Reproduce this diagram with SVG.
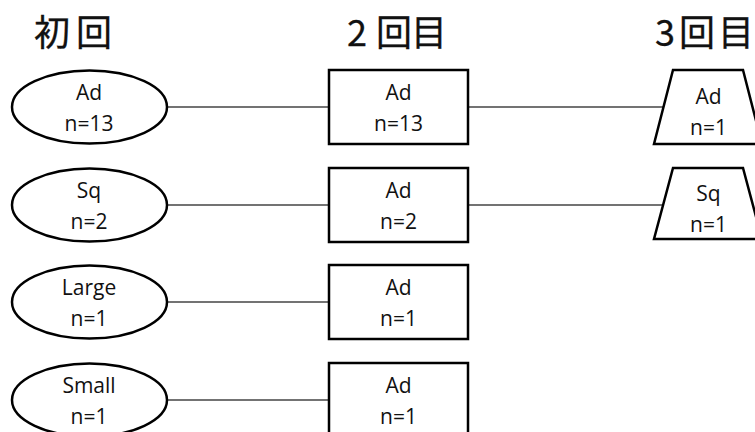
<svg xmlns="http://www.w3.org/2000/svg" width="755" height="432" viewBox="0 0 755 432">
  <style>
    .hd { font-family: "Noto Sans CJK JP", "Noto Sans", sans-serif; font-size: 36px; font-weight: 400; fill: #111; stroke: #111; stroke-width: 0.3; }
    .shape { fill: #fff; stroke: #000; stroke-width: 2.5; }
    .lbl { font-family: "Open Sans", "Liberation Sans", sans-serif; font-size: 21px; fill: #111; text-anchor: middle; }
    .conn line { stroke: #444; stroke-width: 1.3; }
  </style>
  <rect width="755" height="432" fill="#fff"/>

  <!-- column headings -->
  <text class="hd" x="34 76" y="46">初回</text>
  <text class="hd" x="347 376 411" y="46">2回目</text>
  <text class="hd" x="655 679 718" y="46">3回目</text>

  <!-- connectors -->
  <g id="connectors" class="conn">
    <line x1="167" y1="107" x2="329" y2="107"/>
    <line x1="468" y1="107" x2="663" y2="107"/>
    <line x1="167" y1="205" x2="329" y2="205"/>
    <line x1="468" y1="205" x2="663" y2="205"/>
    <line x1="167" y1="302" x2="329" y2="302"/>
    <line x1="167" y1="400" x2="329" y2="400"/>
  </g>

  <!-- first visit -->
  <g id="n1-ad">
    <ellipse class="shape" cx="89.5" cy="107" rx="77.5" ry="36.5"/>
    <text class="lbl" x="89" y="100">Ad</text>
    <text class="lbl" x="89" y="131">n=13</text>
  </g>
  <g id="n1-sq">
    <ellipse class="shape" cx="89.5" cy="205" rx="77.5" ry="36.5"/>
    <text class="lbl" x="89" y="198">Sq</text>
    <text class="lbl" x="89" y="229">n=2</text>
  </g>
  <g id="n1-large">
    <ellipse class="shape" cx="89.5" cy="302" rx="77.5" ry="36.5"/>
    <text class="lbl" x="89" y="295">Large</text>
    <text class="lbl" x="89" y="326">n=1</text>
  </g>
  <g id="n1-small">
    <ellipse class="shape" cx="89.5" cy="400" rx="77.5" ry="36.5"/>
    <text class="lbl" x="89" y="393">Small</text>
    <text class="lbl" x="89" y="424">n=1</text>
  </g>

  <!-- second visit -->
  <g id="n2-a">
    <rect class="shape" x="329" y="70" width="139" height="74"/>
    <text class="lbl" x="398.5" y="100">Ad</text>
    <text class="lbl" x="398.5" y="131">n=13</text>
  </g>
  <g id="n2-b">
    <rect class="shape" x="329" y="168" width="139" height="74"/>
    <text class="lbl" x="398.5" y="198">Ad</text>
    <text class="lbl" x="398.5" y="229">n=2</text>
  </g>
  <g id="n2-c">
    <rect class="shape" x="329" y="265" width="139" height="74"/>
    <text class="lbl" x="398.5" y="295">Ad</text>
    <text class="lbl" x="398.5" y="326">n=1</text>
  </g>
  <g id="n2-d">
    <rect class="shape" x="329" y="363" width="139" height="74"/>
    <text class="lbl" x="398.5" y="393">Ad</text>
    <text class="lbl" x="398.5" y="424">n=1</text>
  </g>

  <!-- third visit -->
  <g id="n3-a">
    <polygon class="shape" points="673,70 743,70 762,144 654,144"/>
    <text class="lbl" x="708.5" y="104">Ad</text>
    <text class="lbl" x="708.5" y="135">n=1</text>
  </g>
  <g id="n3-b">
    <polygon class="shape" points="673,168 743,168 762,239 654,239"/>
    <text class="lbl" x="708.5" y="201">Sq</text>
    <text class="lbl" x="708.5" y="232">n=1</text>
  </g>
</svg>
